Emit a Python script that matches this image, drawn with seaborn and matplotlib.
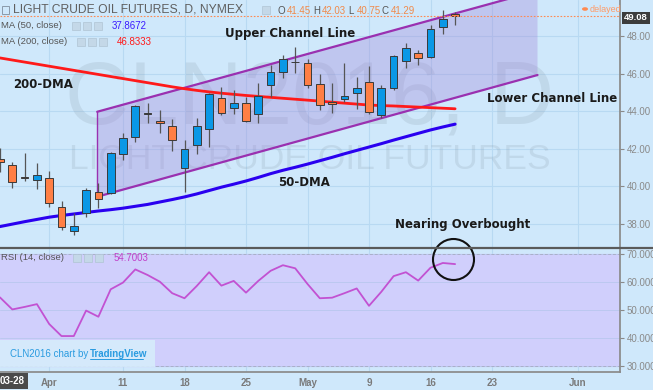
import matplotlib
matplotlib.use('Agg')
import matplotlib.pyplot as plt
import matplotlib.patches as mpatches
import seaborn as sns
import pandas as pd

# ---- data ----
# trading-day index: 0 = Mar 28 ... 37 = May 18
day_idx = list(range(38))
opens  = [41.45, 41.12, 40.48, 40.32, 40.43, 38.88, 37.60, 38.56, 39.68, 39.63,
          41.71, 42.61, 43.84, 43.47, 43.20, 40.96, 42.19, 43.04, 44.69, 44.16,
          44.43, 43.84, 45.39, 46.08, 46.61, 46.56, 45.44, 44.48, 44.64, 44.96,
          45.55, 43.79, 45.23, 46.67, 47.09, 46.88, 48.48, 49.15]
highs  = [42.03, 41.28, 41.76, 41.23, 40.80, 39.20, 38.56, 39.89, 40.16, 41.80,
          42.83, 44.32, 44.43, 44.05, 43.57, 42.45, 43.63, 44.96, 45.28, 45.12,
          44.75, 45.49, 46.45, 46.99, 47.41, 46.77, 45.97, 45.49, 46.56, 45.81,
          46.40, 45.39, 46.99, 47.63, 47.25, 48.59, 49.39, 49.30]
lows   = [40.75, 39.89, 40.27, 39.84, 38.88, 37.65, 37.39, 38.35, 38.83, 39.57,
          41.39, 42.35, 43.36, 42.83, 41.87, 39.68, 41.71, 42.08, 43.79, 43.84,
          43.41, 43.36, 44.75, 45.76, 46.03, 45.23, 44.05, 43.89, 44.48, 44.11,
          43.84, 43.63, 45.12, 46.29, 46.45, 46.83, 48.11, 48.59]
closes = [41.29, 40.21, 40.43, 40.59, 39.09, 37.81, 37.87, 39.79, 39.31, 41.76,
          42.56, 44.27, 43.84, 43.36, 42.45, 41.97, 43.20, 44.91, 43.89, 44.43,
          43.47, 44.80, 46.08, 46.77, 46.59, 45.39, 44.32, 44.37, 44.80, 45.23,
          43.95, 45.23, 46.93, 47.36, 46.83, 48.37, 48.91, 49.08]
ma50   = [37.84, 37.97, 38.10, 38.22, 38.34, 38.43, 38.51, 38.59, 38.67, 38.74,
          38.82, 38.92, 39.02, 39.15, 39.28, 39.42, 39.58, 39.76, 39.94, 40.10,
          40.27, 40.46, 40.66, 40.84, 41.00, 41.17, 41.35, 41.53, 41.72, 41.90,
          42.08, 42.26, 42.45, 42.63, 42.81, 42.99, 43.15, 43.30]
ma200  = [46.83, 46.72, 46.61, 46.50, 46.39, 46.28, 46.17, 46.06, 45.95, 45.84,
          45.73, 45.62, 45.51, 45.40, 45.29, 45.19, 45.10, 45.02, 44.95, 44.89,
          44.83, 44.78, 44.73, 44.68, 44.63, 44.58, 44.53, 44.47, 44.42, 44.37,
          44.32, 44.29, 44.27, 44.24, 44.21, 44.18, 44.15, 44.12]
rsi    = [54.5, 50.2, 51.1, 52.1, 45.0, 40.7, 40.7, 49.8, 47.6, 57.4,
          59.8, 64.5, 62.5, 60.1, 56.0, 54.2, 58.6, 63.5, 58.7, 60.4,
          56.2, 60.4, 64.0, 66.0, 64.9, 59.3, 54.2, 54.4, 56.0, 57.7,
          51.5, 56.5, 62.1, 63.5, 60.5, 65.1, 66.8, 66.4]

# parallel channel corners (day index, price)
channel_x = [7.9, 43.7, 43.7, 7.9]
channel_y = [43.96, 50.41, 45.92, 39.43]

price_ticks = [38, 40, 42, 44, 46, 48]
rsi_ticks = [30, 40, 50, 60, 70]
tick_pos = [4, 10, 15, 20, 25, 30, 35, 40, 47]
tick_labels = ['Apr', '11', '18', '25', 'May', '9', '16', '23', 'Jun']
last_price = 49.08

df = pd.DataFrame({'day': day_idx, 'ma50': ma50, 'ma200': ma200, 'rsi': rsi})

# ---- style ----
bg = '#cfe8fb'
grid_c = '#b8d9f2'
sns.set_theme(style='white')
plt.rcParams['font.family'] = ['Liberation Sans', 'DejaVu Sans']

W, H = 653, 390
fig = plt.figure(figsize=(W / 100, H / 100), dpi=100)
fig.patch.set_facecolor(bg)


def fx(px):
    return px / W


def fy(py):
    return 1 - py / H


ax = fig.add_axes([0, fy(247), fx(620), 247 / H])
ax2 = fig.add_axes([0, fy(372), fx(620), (372 - 249) / H], sharex=ax)

for a in (ax, ax2):
    a.set_facecolor(bg)
    for s in a.spines.values():
        s.set_visible(False)
    a.spines['right'].set_visible(True)
    a.spines['right'].set_color('#8a8a8a')
    a.yaxis.tick_right()
    a.tick_params(axis='y', length=3, width=0.8, colors='#8a8a8a', labelsize=7,
                  labelcolor='#8a8a8a', pad=2)
    for t in tick_pos:
        a.axvline(t, color=grid_c, lw=0.8, zorder=0)

ax.set_xlim(0, 620 / 12.3)
ax.set_ylim(36.75, 49.92)
ax.set_yticks(price_ticks)
ax.set_yticklabels([f'{v:.2f}' for v in price_ticks])
for v in price_ticks:
    ax.axhline(v, color=grid_c, lw=0.8, zorder=0)
ax.tick_params(axis='x', bottom=False, labelbottom=False)

# watermark
ax.text(0.5, 0.595, 'CLN2016, D', transform=ax.transAxes, ha='center', va='center',
        fontsize=64, color='#8898a8', alpha=0.2, zorder=1)
ax.text(0.5, 0.353, 'LIGHT CRUDE OIL FUTURES', transform=ax.transAxes, ha='center',
        va='center', fontsize=25.5, color='#8898a8', alpha=0.2, zorder=1)

# channel
ax.fill(channel_x, channel_y, facecolor='#a081d8', alpha=0.33, edgecolor='none', zorder=2)
ax.plot(channel_x[:2], channel_y[:2], color='#9a30b0', lw=1.6, zorder=3)
ax.plot(channel_x[3:1:-1], channel_y[3:1:-1], color='#9a30b0', lw=1.6, zorder=3)
ax.plot([channel_x[0], channel_x[3]], [channel_y[0], channel_y[3]], color='#9a30b0', lw=1.0, zorder=3)

# moving averages
sns.lineplot(data=df, x='day', y='ma200', ax=ax, color='#ff1a1a', lw=2, zorder=4)
sns.lineplot(data=df, x='day', y='ma50', ax=ax, color='#2a00f0', lw=2.2, zorder=4)
ax.set_xlabel('')
ax.set_ylabel('')

# candles
for d, o, h, l, c in zip(day_idx, opens, highs, lows, closes):
    if c > o:
        col = '#0a98e6'
    elif c < o:
        col = '#ff7f45'
    else:
        col = '#333333'
    ax.vlines(d, l, h, color='#555555', lw=0.9, zorder=5)
    height = max(abs(c - o), 0.04)
    ax.bar(d, height, bottom=min(o, c), width=0.62, color=col,
           edgecolor='#3a3a3a', lw=0.7, zorder=6)

ax.axhline(last_price, color='#ff8a50', lw=0.8, ls=(0, (1.5, 1.5)), zorder=7)

# RSI pane
ax2.set_ylim(27.86, 71.79)
ax2.axhspan(30, 70, color='#d0cffc', zorder=0.5)
for v in rsi_ticks:
    ax2.axhline(v, color='#bcc8f0', lw=0.7, zorder=0.6)
ax2.axhline(70, color='#aab0c8', lw=0.7, ls=(0, (3, 2)), zorder=0.7)
ax2.axhline(30, color='#aab0c8', lw=0.7, ls=(0, (3, 2)), zorder=0.7)
sns.lineplot(data=df, x='day', y='rsi', ax=ax2, color='#c252d2', lw=1.3, zorder=3)
ax2.set_xlabel('')
ax2.set_ylabel('')
ax2.set_yticks(rsi_ticks)
ax2.set_yticklabels([f'{v:.4f}' for v in rsi_ticks])
ax2.set_xticks(tick_pos)
ax2.set_xticklabels(tick_labels)
ax2.spines['bottom'].set_visible(True)
ax2.spines['bottom'].set_color('#8a8a8a')
ax2.tick_params(axis='x', length=0, labelsize=7, labelcolor='#7a7a7a', pad=4)
for t in ax2.get_xticklabels():
    t.set_fontweight('bold')

# pane separator
fig.add_artist(plt.Line2D([0, 1], [fy(248), fy(248)], color='#5a5a5a', lw=1.6))

# header texts
fig.add_artist(mpatches.Rectangle((fx(2), fy(14)), fx(7), 8 / H, facecolor='none',
                                  edgecolor='#8a9aaa', lw=0.7))
fig.text(fx(13), fy(10), 'LIGHT CRUDE OIL FUTURES, D, NYMEX', fontsize=8.7,
         color='#606060', va='center')
ohlc = [('O', '41.45', 278), ('H', '42.03', 313), ('L', '40.75', 348), ('C', '41.29', 382)]
for lab, val, x0 in ohlc:
    fig.text(fx(x0), fy(11), lab, fontsize=7, color='#555555', va='center')
    fig.text(fx(x0 + 9), fy(11), val, fontsize=7, color='#f08a4b', va='center')
fig.text(fx(1), fy(26), 'MA (50, close)', fontsize=6.8, color='#555555', va='center')
fig.text(fx(112), fy(26), '37.8672', fontsize=7, color='#3a1cff', va='center')
fig.text(fx(1), fy(42), 'MA (200, close)', fontsize=6.8, color='#555555', va='center')
fig.text(fx(117), fy(42), '46.8333', fontsize=7, color='#ff1a1a', va='center')
fig.text(fx(1), fy(258), 'RSI (14, close)', fontsize=6.8, color='#555555', va='center')
fig.text(fx(114), fy(258), '54.7003', fontsize=7, color='#c040c8', va='center')

# small legend icons
for x0, yc in [(72, 26), (77, 42), (73, 258)]:
    for j in range(3):
        fig.add_artist(mpatches.Rectangle((fx(x0 + j * 11), fy(yc + 4)), fx(8), 8 / H,
                                          facecolor='#c4d8e8', edgecolor='#b0c4d4', lw=0.5))
fig.add_artist(mpatches.Rectangle((fx(262), fy(14)), fx(8), 8 / H,
                                  facecolor='#c4d8e8', edgecolor='#b0c4d4', lw=0.5))

# delayed + last price label
fig.add_artist(mpatches.Circle((fx(585), fy(9)), 3 / W, facecolor='#ff8a50',
                               edgecolor='none'))
fig.text(fx(590), fy(9), 'delayed', fontsize=6.5, color='#ff9a66', va='center')
fig.text(fx(624), fy(18), '49.08', fontsize=6.8, color='white', va='center', fontweight='bold',
         bbox=dict(boxstyle='square,pad=0.2', facecolor='#3c3c3c', edgecolor='none'))

# date label box
fig.text(fx(0), fy(381), '03-28', fontsize=7, color='white', va='center', fontweight='bold',
         bbox=dict(boxstyle='square,pad=0.3', facecolor='#4a4a4a', edgecolor='none'))

# credit box
fig.add_artist(mpatches.Rectangle((0, fy(367)), fx(155), 27 / H, facecolor='#d6ecfb',
                                  edgecolor='none', alpha=0.9))
fig.text(fx(10), fy(354), 'CLN2016 chart by', fontsize=7, color='#2a9be0', va='center')
fig.text(fx(90), fy(354), 'TradingView', fontsize=7, color='#2a9be0', va='center',
         fontweight='bold')
fig.add_artist(plt.Line2D([fx(90), fx(143)], [fy(359), fy(359)], color='#2a9be0', lw=0.7))

# annotations
ann = dict(fontsize=8.5, fontweight='bold', color='#1a1a1a', va='center', family='DejaVu Sans')
fig.text(fx(225), fy(33), 'Upper Channel Line', **ann)
fig.text(fx(13), fy(85), '200-DMA', **ann)
fig.text(fx(487), fy(98), 'Lower Channel Line', **ann)
fig.text(fx(278), fy(183), '50-DMA', **ann)
fig.text(fx(395), fy(225), 'Nearing Overbought', **ann)

fig.add_artist(mpatches.Ellipse((fx(453.5), fy(259.5)), fx(41), 41 / H, facecolor='none',
                                edgecolor='#111111', lw=1.5))

fig.savefig('out.png', dpi=100, facecolor=bg)
